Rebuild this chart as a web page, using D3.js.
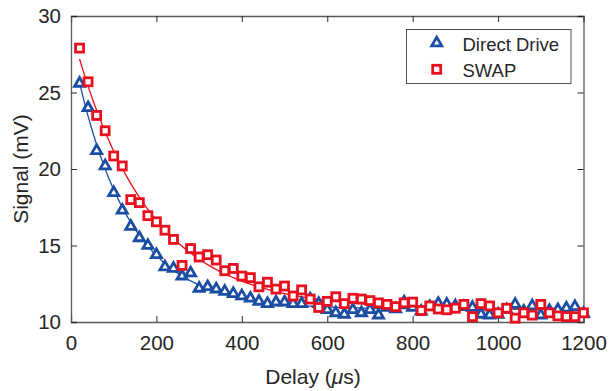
<!DOCTYPE html>
<html>
<head>
<meta charset="utf-8">
<script src="https://cdn.jsdelivr.net/npm/d3@7"></script>
<style>
  body { margin: 0; background: #fff; }
  text { font-family: "Liberation Sans", Arial, sans-serif; fill: #262626; }
</style>
</head>
<body>
<svg id="chart" width="611" height="391"></svg>
<script>
const delays = [20, 40, 60, 80, 100, 120, 140, 160, 180, 200,
  220, 240, 260, 280, 300, 320, 340, 360, 380, 400,
  420, 440, 460, 480, 500, 520, 540, 560, 580, 600,
  620, 640, 660, 680, 700, 720, 740, 760, 780, 800,
  820, 840, 860, 880, 900, 920, 940, 960, 980, 1000,
  1020, 1040, 1060, 1080, 1100, 1120, 1140, 1160, 1180, 1200];

const directDrive = [25.6, 24.0, 21.2, 20.2, 18.45, 17.3, 16.25, 15.5, 15.0, 14.4,
  13.6, 13.5, 13.0, 13.2, 12.2, 12.3, 12.15, 12.0, 11.85, 11.7,
  11.55, 11.35, 11.2, 11.3, 11.3, 11.2, 11.2, 11.5, 11.2, 10.8,
  10.6, 10.5, 10.8, 10.6, 10.8, 10.45, 10.95, 10.85, 11.3, 10.95,
  10.7, 11.0, 11.2, 11.15, 11.05, 11.0, 10.95, 10.5, 10.45, 10.5,
  10.8, 11.15, 10.7, 11.05, 10.45, 10.75, 10.8, 10.9, 11.0, 10.55];

const swap = [27.9, 25.7, 23.5, 22.5, 20.85, 20.2, 18.0, 17.8, 16.95, 16.55,
  16.0, 15.4, 13.7, 14.8, 14.25, 14.4, 14.05, 13.35, 13.5, 13.0,
  12.9, 12.3, 12.6, 12.15, 12.35, 11.7, 12.1, 11.5, 10.95, 11.35,
  11.65, 11.2, 11.55, 11.5, 11.4, 11.25, 11.15, 11.0, 11.25, 11.3,
  10.75, 11.05, 10.85, 10.8, 10.9, 11.15, 10.35, 11.2, 11.05, 10.6,
  10.9, 10.25, 10.6, 10.45, 11.15, 10.6, 10.4, 10.35, 10.35, 10.6];

const xTicks = [0, 200, 400, 600, 800, 1000, 1200];
const yTicks = [10, 15, 20, 25, 30];
const seriesNames = ['Direct Drive', 'SWAP'];

const BLUE = '#1b4ea3';
const RED = '#e8101e';

const svg = d3.select('#chart');
const margin = { left: 71, right: 27.5, top: 16, bottom: 69 };
const W = 611, H = 391;

const x = d3.scaleLinear().domain([0, 1200]).range([margin.left, W - margin.right]);
const y = d3.scaleLinear().domain([10, 30]).range([H - margin.bottom, margin.top]);

// single exponential fit y = C + A*exp(-t/tau), grid search on tau
function expFit(ts, ys) {
  let best = null;
  for (let tau = 20; tau <= 600; tau += 0.5) {
    const e = ts.map(t => Math.exp(-t / tau));
    const me = d3.mean(e), my = d3.mean(ys);
    let sxy = 0, sxx = 0;
    e.forEach((v, i) => { sxy += (v - me) * (ys[i] - my); sxx += (v - me) ** 2; });
    const A = sxy / sxx, C = my - A * me;
    const sse = d3.sum(ys, (v, i) => (v - C - A * e[i]) ** 2);
    if (!best || sse < best.sse) best = { tau, A, C, sse };
  }
  return t => best.C + best.A * Math.exp(-t / best.tau);
}

// axes
const gx = svg.append('g').attr('transform', `translate(0,${y(10)})`)
  .call(d3.axisBottom(x).tickValues(xTicks).tickSize(-6).tickPadding(13).tickFormat(d3.format('d')));
const gxTop = svg.append('g').attr('transform', `translate(0,${y(30)})`)
  .call(d3.axisTop(x).tickValues(xTicks).tickSize(-6).tickFormat(''));
const gy = svg.append('g').attr('transform', `translate(${x(0)},0)`)
  .call(d3.axisLeft(y).tickValues(yTicks).tickSize(-6).tickPadding(10));
const gyRight = svg.append('g').attr('transform', `translate(${x(1200)},0)`)
  .call(d3.axisRight(y).tickValues(yTicks).tickSize(-6).tickFormat(''));

[gx, gxTop, gy, gyRight].forEach(g => {
  g.select('.domain').attr('stroke', '#5a5a5a').attr('stroke-width', 1.3);
  g.selectAll('.tick line').attr('stroke', '#262626');
  g.selectAll('.tick text').attr('font-size', 20.5).attr('fill', '#262626')
    .attr('font-family', '"Liberation Sans", Arial, sans-serif');
});

// axis titles
svg.append('text')
  .attr('x', 313).attr('y', 384)
  .attr('text-anchor', 'middle').attr('font-size', 21)
  .html('Delay (<tspan font-style="italic">μ</tspan>s)');

svg.append('text')
  .attr('transform', `translate(28,${(y(10) + y(30)) / 2}) rotate(-90)`)
  .attr('text-anchor', 'middle').attr('font-size', 21)
  .text('Signal (mV)');

const tri = d3.symbol().type(d3.symbolTriangle).size(44);
const pairs = s => delays.map((d, i) => [d, s[i]]);
const SQ = 8;

// fit curves
const line = d3.line().x(d => x(d[0])).y(d => y(d[1]));
const tFine = d3.range(20, 1201, 4);
[[directDrive, BLUE], [swap, RED]].forEach(([s, c]) => {
  const f = expFit(delays, s);
  svg.append('path')
    .datum(tFine.map(t => [t, f(t)]))
    .attr('d', line)
    .attr('fill', 'none').attr('stroke', c).attr('stroke-width', 1.3);
});

// markers
svg.append('g').selectAll('path')
  .data(pairs(directDrive))
  .join('path')
    .attr('d', tri)
    .attr('transform', d => `translate(${x(d[0])},${y(d[1])})`)
    .attr('fill', '#fff').attr('stroke', BLUE).attr('stroke-width', 2.8);

svg.append('g').selectAll('rect')
  .data(pairs(swap))
  .join('rect')
    .attr('x', d => x(d[0]) - SQ / 2).attr('y', d => y(d[1]) - SQ / 2)
    .attr('width', SQ).attr('height', SQ)
    .attr('fill', '#fff').attr('stroke', RED).attr('stroke-width', 2.8);

// legend
const lg = svg.append('g');
lg.append('rect')
  .attr('x', 406.5).attr('y', 29.5).attr('width', 164.5).attr('height', 54)
  .attr('fill', '#fff').attr('stroke', '#262626').attr('stroke-width', 0.8);
lg.append('path').attr('d', tri).attr('transform', 'translate(436.7,43)')
  .attr('fill', '#fff').attr('stroke', BLUE).attr('stroke-width', 2.8);
lg.append('rect').attr('x', 436.7 - SQ / 2).attr('y', 69.3 - SQ / 2)
  .attr('width', SQ).attr('height', SQ)
  .attr('fill', '#fff').attr('stroke', RED).attr('stroke-width', 2.8);
lg.selectAll('text.lab').data(seriesNames).join('text')
  .attr('class', 'lab')
  .attr('x', 462.5).attr('y', (d, i) => 50.5 + i * 26)
  .attr('font-size', 18.5).text(d => d);
</script>
</body>
</html>
